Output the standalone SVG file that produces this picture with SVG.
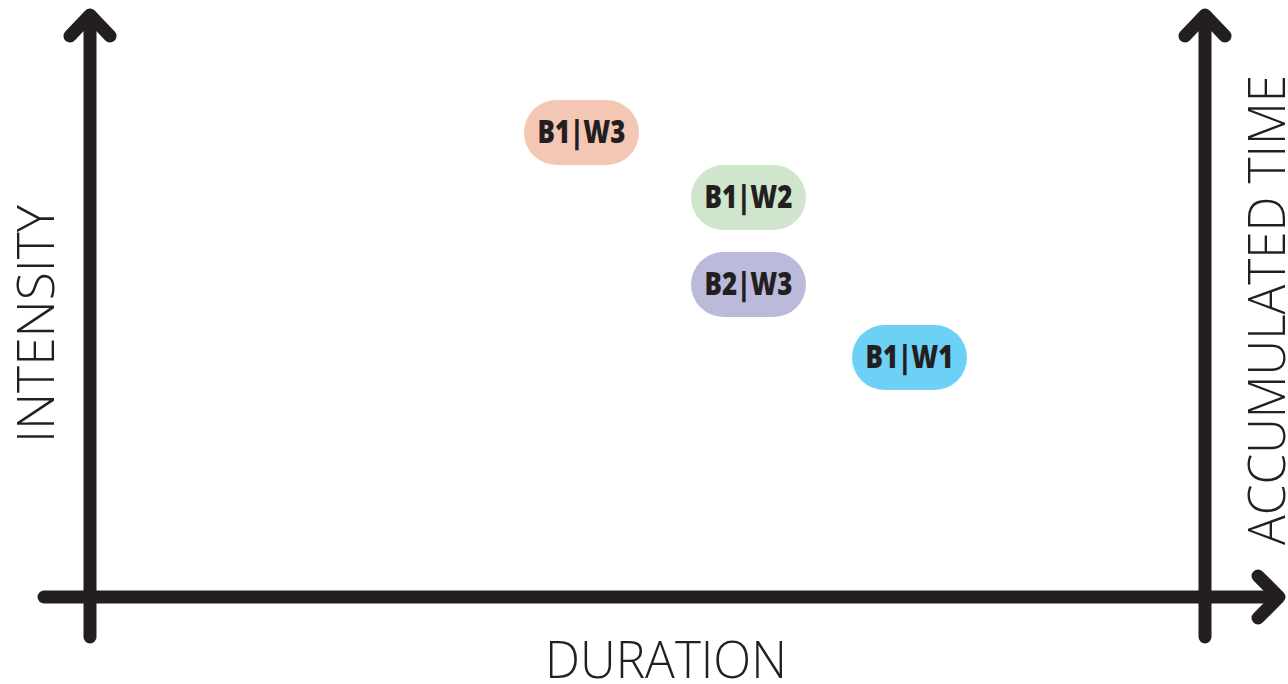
<svg xmlns="http://www.w3.org/2000/svg" width="1288" height="684" viewBox="0 0 1288 684">
  <style>
    .axis { fill: none; stroke: #231f20; stroke-width: 13; stroke-linecap: round; stroke-linejoin: round; }
    .axis-label { font-family: "Open Sans", "Liberation Sans", sans-serif; font-weight: 300; font-size: 51px; fill: #231f20; }
    .pill-text { font-family: "Open Sans", "Liberation Sans", sans-serif; font-weight: 800; font-size: 31px; fill: #231f20; text-anchor: middle; }
  </style>
  <rect width="1288" height="684" fill="#ffffff"/>

  <!-- axes -->
  <g id="connectors">
    <line class="axis" x1="90" y1="637" x2="90" y2="16"/>
    <polyline class="axis" points="70,36 90,15 110,36"/>
    <line class="axis" x1="1205" y1="637" x2="1205" y2="16"/>
    <polyline class="axis" points="1185,36 1205,15 1225,36"/>
    <line class="axis" x1="44" y1="597" x2="1278" y2="597"/>
    <polyline class="axis" points="1258,576 1279,597 1258,618"/>
  </g>

  <!-- axis labels -->
  <g id="label-intensity">
    <text class="axis-label" transform="translate(54,324) rotate(-90)" text-anchor="middle" textLength="238" lengthAdjust="spacingAndGlyphs">INTENSITY</text>
  </g>
  <g id="label-accumulated-time">
    <text class="axis-label" transform="translate(1285,310) rotate(-90)" text-anchor="middle" textLength="470" lengthAdjust="spacingAndGlyphs">ACCUMULATED TIME</text>
  </g>
  <g id="label-duration">
    <text class="axis-label" x="666" y="678" text-anchor="middle" textLength="242" lengthAdjust="spacingAndGlyphs">DURATION</text>
  </g>

  <!-- data points -->
  <g id="b1-w3">
    <rect x="524" y="100" width="115" height="65" rx="32.5" fill="#f4c7b5"/>
    <text class="pill-text" x="581.5" y="143" textLength="88" lengthAdjust="spacingAndGlyphs">B1|W3</text>
  </g>
  <g id="b1-w2">
    <rect x="691" y="165" width="115" height="65" rx="32.5" fill="#d0e6cc"/>
    <text class="pill-text" x="748.5" y="208" textLength="88" lengthAdjust="spacingAndGlyphs">B1|W2</text>
  </g>
  <g id="b2-w3">
    <rect x="691" y="252" width="115" height="65" rx="32.5" fill="#bbbadb"/>
    <text class="pill-text" x="748.5" y="295" textLength="88" lengthAdjust="spacingAndGlyphs">B2|W3</text>
  </g>
  <g id="b1-w1">
    <rect x="852" y="325" width="115" height="65" rx="32.5" fill="#6dd0f5"/>
    <text class="pill-text" x="909.5" y="368" textLength="88" lengthAdjust="spacingAndGlyphs">B1|W1</text>
  </g>
</svg>
